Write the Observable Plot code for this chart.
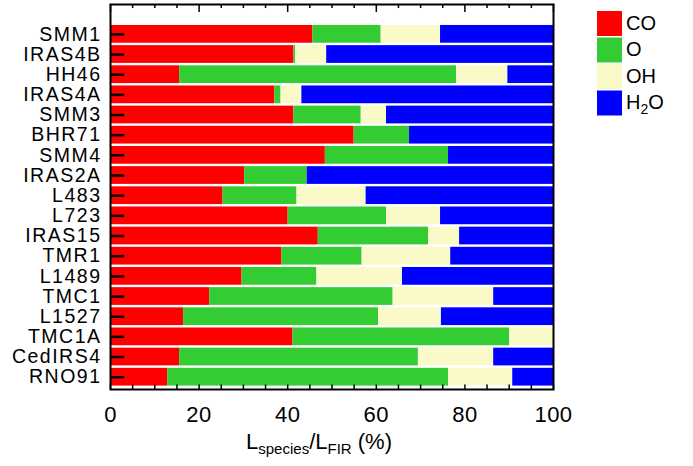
<!DOCTYPE html>
<html><head><meta charset="utf-8">
<script src="https://cdn.jsdelivr.net/npm/d3@7"></script>
<script src="https://cdn.jsdelivr.net/npm/@observablehq/plot@0.6"></script>
<style>
body{margin:0;background:#fff}
#chart{position:relative;width:693px;height:466px}
#chart svg{display:block}
g[aria-label="y-axis tick label"] text{letter-spacing:1.5px}
g[aria-label="x-axis tick label"] text{letter-spacing:0.5px}
</style>
</head><body><div id="chart"></div>
<script>
const sources = ["SMM1","IRAS4B","HH46","IRAS4A","SMM3","BHR71","SMM4","IRAS2A","L483","L723","IRAS15","TMR1","L1489","TMC1","L1527","TMC1A","CedIRS4","RNO91"];
const species = ["CO","O","OH","H2O"];
const colors = ["#ff0000","#33cc33","#fafac8","#0000ff"];
const coPct  = [45.7,41.4,15.6,37.1,41.4,55.0,48.5,30.3,25.4,40.1,46.9,38.7,29.7,22.4,16.5,41.2,15.6,12.9];
const oPct   = [15.4,0.4,62.5,1.4,15.2,12.5,27.8,14.1,16.7,22.2,24.9,18.1,16.9,41.4,44.0,48.9,53.9,63.4];
const ohPct  = [13.4,7.0,11.6,4.7,5.7,0,0,0,15.6,12.2,7.0,20.0,19.3,22.7,14.2,9.9,17.0,14.5];
const h2oPct = [25.5,51.2,10.3,56.8,37.7,32.5,23.7,55.6,42.3,25.5,21.2,23.2,34.1,13.5,25.3,0,13.5,9.2];
const xTicks = [0,20,40,60,80,100];
const xMinorTicks = d3.range(0,101,5);

const series = [coPct,oPct,ohPct,h2oPct];
const n = sources.length;
const rows = [];
sources.forEach((s,i)=>{
  let acc = 0;
  species.forEach((sp,k)=>{
    const v = series[k][i];
    if (v > 0) rows.push({source:s, species:sp, pos:n-i, x1:acc, x2:Math.min(100,acc+v)});
    acc += v;
  });
});
const positions = sources.map((s,i)=>n-i);

const yMin = 0.39, yMax = 19.48, half = 0.44;
const plot = Plot.plot({
  width:693, height:466, marginLeft:110, marginRight:140, marginTop:4, marginBottom:77,
  style:{fontFamily:"'Liberation Sans', Arial, sans-serif", background:"white", color:"black"},
  x:{domain:[0,100], label:null},
  y:{domain:[yMin,yMax], label:null},
  color:{domain:species, range:colors},
  marks:[
    Plot.rectX(rows, {x1:"x1", x2:"x2", y1:d=>d.pos-half, y2:d=>d.pos+half, fill:"species"}),
    Plot.ruleY(positions, {y:d=>d, x1:0, x2:3.2, stroke:"black", strokeWidth:2.5}),
    Plot.ruleX(xMinorTicks, {x:d=>d, y1:yMin, y2:yMin+0.22, stroke:"black", strokeWidth:1.5}),
    Plot.ruleX(xMinorTicks, {x:d=>d, y1:d=>yMax-(d%20===0?0.4:0.2), y2:yMax, stroke:"black", strokeWidth:1.5}),
    Plot.frame({stroke:"black", strokeWidth:2}),
    Plot.axisY({ticks:positions, tickFormat:p=>sources[n-p], tickSize:0, tickPadding:9, fontSize:19.5, label:null}),
    Plot.axisX({ticks:xTicks, tickSize:0, tickPadding:17, fontSize:22, label:null})
  ]
});
document.getElementById("chart").appendChild(plot);

const svg = d3.select(plot);
const ff = "'Liberation Sans', Arial, sans-serif";
// x-axis title with subscripts
const t = svg.append("text").attr("x",319).attr("y",449)
  .style("text-anchor","middle").style("font-size","22px").style("font-family",ff).attr("fill","black");
t.append("tspan").text("L");
t.append("tspan").style("font-size","15px").attr("dy",5).text("species");
t.append("tspan").attr("dy",-5).text("/L");
t.append("tspan").style("font-size","15px").attr("dy",5).text("FIR");
t.append("tspan").attr("dy",-5).text(" (%)");

// legend
const lg = svg.append("g").style("font-family",ff).style("font-size","20px");
species.forEach((sp,k)=>{
  const y0 = 11 + k*26.5;
  lg.append("rect").attr("x",597).attr("y",y0).attr("width",25).attr("height",25).attr("fill",colors[k]);
  const tx = lg.append("text").attr("x",626).attr("y",y0+18.5).style("text-anchor","start").attr("fill","black");
  const parts = sp.match(/[A-Za-z]+|\d+/g);
  let sub = false;
  parts.forEach(p=>{
    if (/\d/.test(p)) { tx.append("tspan").style("font-size","14px").attr("dy",5).text(p); sub = true; }
    else { const ts = tx.append("tspan").text(p); if (sub) { ts.attr("dy",-5); sub = false; } }
  });
});
</script>
</body></html>
